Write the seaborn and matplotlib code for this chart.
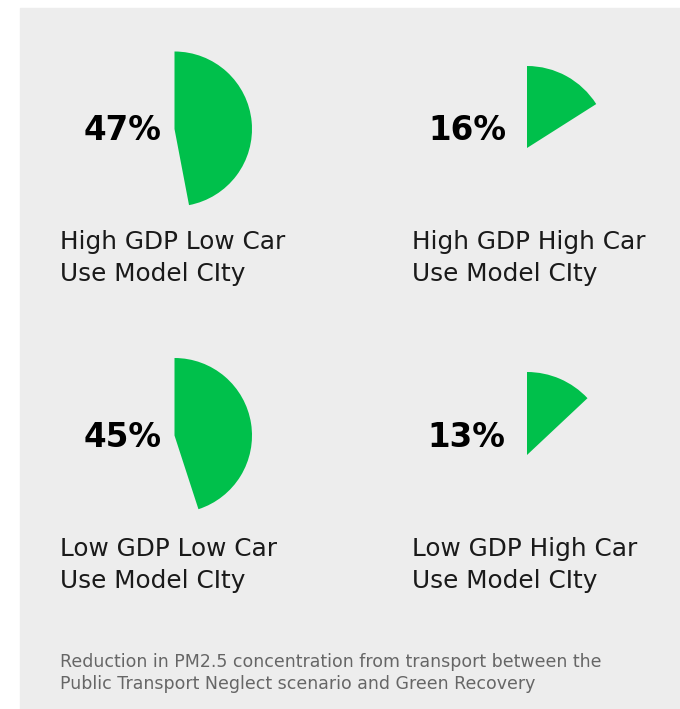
import matplotlib
matplotlib.use("Agg")
import matplotlib.pyplot as plt
import seaborn as sns

# data
values = [47, 16, 45, 13]
pct_labels = ["47%", "16%", "45%", "13%"]
city_line1 = ["High GDP Low Car", "High GDP High Car", "Low GDP Low Car", "Low GDP High Car"]
city_line2 = ["Use Model CIty", "Use Model CIty", "Use Model CIty", "Use Model CIty"]
caption = ["Reduction in PM2.5 concentration from transport between the",
           "Public Transport Neglect scenario and Green Recovery"]

# layout in pixels (top-left origin)
W, H = 680, 709
pie_x = [174.5, 527, 174.5, 527]
pie_y = [129, 148, 435.5, 455]
pie_r = [77.5, 82, 77.5, 83]
pct_x = [161, 506, 162, 505]
pct_y = [140, 140, 447, 447]
lab_x = [60, 412, 60, 412]
lab_y = [249, 249, 556, 556]

green = "#00c04b"
panel = "#ededed"

sns.set_style("white")
plt.rcParams["font.family"] = ["DejaVu Sans"]

fig = plt.figure(figsize=(W / 100, H / 100), dpi=100)
fig.patch.set_facecolor("white")
ax = fig.add_axes([0, 0, 1, 1])

# grey panel
ax.add_patch(plt.Rectangle((20, 0), W - 20, H - 8, color=panel, zorder=0))

for i, v in enumerate(values):
    ax.pie([v, 100 - v], colors=[green, "none"], startangle=90, counterclock=False,
           center=(pie_x[i], H - pie_y[i]), radius=pie_r[i],
           wedgeprops=dict(linewidth=0), frame=True)
    ax.text(pct_x[i], H - pct_y[i], pct_labels[i], ha="right", va="baseline",
            fontsize=23.5, fontweight="bold", color="black")
    ax.text(lab_x[i], H - lab_y[i], city_line1[i], ha="left", va="baseline",
            fontsize=17.8, color="#1a1a1a")
    ax.text(lab_x[i], H - lab_y[i] - 32, city_line2[i], ha="left", va="baseline",
            fontsize=17.8, color="#1a1a1a")

ax.text(60, H - 667, caption[0], ha="left", va="baseline", fontsize=12.5, color="#666666")
ax.text(60, H - 689, caption[1], ha="left", va="baseline", fontsize=12.5, color="#666666")

ax.set_xlim(0, W)
ax.set_ylim(0, H)
ax.set_aspect("auto")
ax.axis("off")

plt.savefig("out.png", dpi=100)
